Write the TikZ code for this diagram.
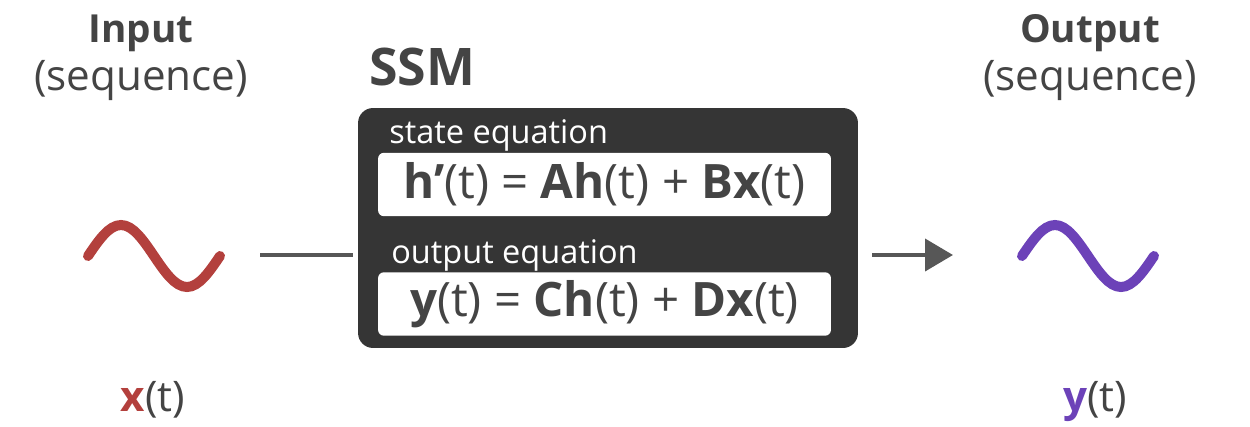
\documentclass[tikz,border=0pt]{standalone}
\usepackage{fontspec}
\setmainfont{Open Sans}
\usetikzlibrary{arrows.meta}

\definecolor{inkgray}{HTML}{444444}
\definecolor{boxgray}{HTML}{353535}
\definecolor{wavered}{HTML}{B3403D}
\definecolor{wavepurple}{HTML}{6C42B8}

\tikzset{
  title/.style={text=inkgray, font=\fontsize{22}{26}\selectfont\bfseries, inner sep=0pt},
  subtitle/.style={text=inkgray, font=\fontsize{24}{28}\selectfont, inner sep=0pt},
  ssmbox/.style={fill=boxgray, rounded corners=0.3cm, minimum width=10cm, minimum height=4.8cm, inner sep=0pt},
  eqbox/.style={fill=white, rounded corners=0.12cm, minimum width=9.06cm, minimum height=1.27cm, inner sep=0pt,
    text=inkgray, font=\fontsize{27}{32}\selectfont},
  eqlabel/.style={text=white, font=\fontsize{18.5}{22}\selectfont, inner sep=0pt, anchor=base west},
  wave/.style={line width=0.2cm, line cap=round},
  link/.style={draw=inkgray!90, line width=0.08cm}
}

\begin{document}
\begin{tikzpicture}[x=0.02cm, y=-0.02cm]
\useasboundingbox (0,0) rectangle (1250,426);
\node[title, anchor=base] (intitle) at (141,42) {Input};
\node[subtitle, anchor=base] (insub) at (141,90) {(sequence)};
\node[title, anchor=base] (outtitle) at (1090,42) {Output};
\node[subtitle, anchor=base] (outsub) at (1090,90) {(sequence)};
\node[title, anchor=base west, font=\fontsize{29.5}{34}\selectfont\bfseries] (ssmtitle) at (369,85) {SSM};

\node[ssmbox] (ssm) at (608,228) {};
\node[eqlabel] (statelbl) at (389,143) {state equation};
\node[eqbox] (stateeq) at (604.5,184.5) {\textbf{h’}(t) = \textbf{Ah}(t) + \textbf{Bx}(t)};
\node[eqlabel] (outlbl) at (391,263) {output equation};
\node[eqbox] (outeq) at (604.5,304) {\textbf{y}(t) = \textbf{Ch}(t) + \textbf{Dx}(t)};

\draw[wave, wavered] (88,256) sin (121,225) cos (154,256) sin (187,287) cos (220,256);
\draw[wave, wavepurple] (1022,256) sin (1055,225) cos (1088,256) sin (1121,287) cos (1154,256);

\coordinate (in0) at (260,255);
\coordinate (in1) at (353,255);
\coordinate (out0) at (872,255);
\coordinate (out1) at (953,255);
\draw[link] (in0) -- (in1);
\draw[link, -{Triangle[length=0.56cm, width=0.64cm]}] (out0) -- (out1);

\node[subtitle, anchor=base] (xlbl) at (153,411) {\textcolor{wavered}{\textbf{x}}(t)};
\node[subtitle, anchor=base] (ylbl) at (1095,411) {\textcolor{wavepurple}{\textbf{y}}(t)};
\end{tikzpicture}
\end{document}
